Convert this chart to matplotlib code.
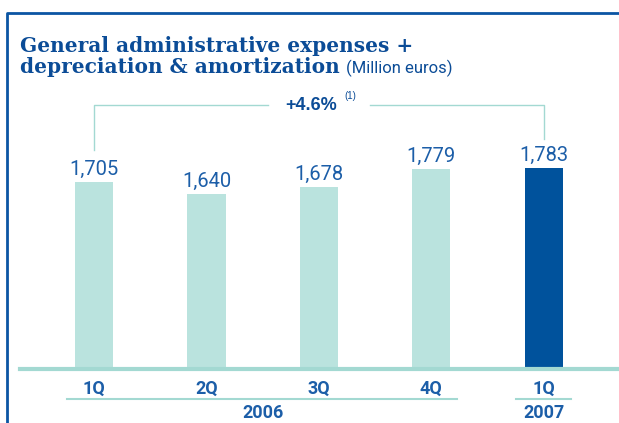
import matplotlib
matplotlib.use("Agg")
import matplotlib.pyplot as plt
from matplotlib.lines import Line2D
from matplotlib.transforms import blended_transform_factory

quarters = ["1Q", "2Q", "3Q", "4Q", "1Q"]
years = ["2006", "2007"]
values = [1705, 1640, 1678, 1779, 1783]
change_label = "+4.6%"
note = "(1)"

light = "#bae3de"
dark = "#00529c"
teal = "#a3d9d2"
blue_txt = "#1c5ea8"
title_blue = "#0b4c97"
sans = ["Roboto", "DejaVu Sans"]

W, H = 619, 423
fig = plt.figure(figsize=(W / 100, H / 100), dpi=100)

# axes: left 20px, bottom at 369px from top, top at 100px from top
ax = fig.add_axes([20 / W, 54 / H, 599 / W, 269 / H])
x = list(range(len(values)))
colors = [light] * (len(values) - 1) + [dark]
ax.bar(x, values, width=0.34, color=colors, zorder=2)
ax.set_xlim(-0.66, 4.67)
ax.set_ylim(670, 2160)

for s in ["top", "right", "left"]:
    ax.spines[s].set_visible(False)
ax.spines["bottom"].set_color(teal)
ax.spines["bottom"].set_linewidth(3)
ax.spines["bottom"].set_zorder(3)
ax.set_yticks([])
ax.set_xticks(x)
ax.set_xticklabels(quarters, fontsize=13, fontweight="bold", color=blue_txt,
                   family=sans)
ax.tick_params(axis="x", length=0, pad=8)

for xi, v in zip(x, values):
    ax.annotate(f"{v:,}", (xi, v), xytext=(0, 5), textcoords="offset points",
                ha="center", va="baseline", fontsize=14.5, color=blue_txt,
                family=sans)

# bracket showing the change
top = 2132
ax.plot([0, 0, 1.546], [1883, top, top], color=teal, lw=1, clip_on=False)
ax.plot([2.454, 4, 4], [top, top, 1944], color=teal, lw=1, clip_on=False)
ax.text(1.93, top, change_label, ha="center", va="center", fontsize=13,
        fontweight="bold", color=title_blue, family=["Liberation Sans", "DejaVu Sans"])
ax.text(2.23, top + 50, note, ha="left", va="center", fontsize=7,
        color=title_blue, family=["Liberation Sans", "DejaVu Sans"])

# year grouping below the quarter labels
tr = blended_transform_factory(ax.transData, fig.transFigure)
uy = 1 - 399 / H
fig.add_artist(Line2D([-0.24, 3.23], [uy, uy], transform=tr, color=teal, lw=1.5))
fig.add_artist(Line2D([3.75, 4.24], [uy, uy], transform=tr, color=teal, lw=1.5))
for xp, yr in zip([1.5, 4], years):
    fig.text(xp, 1 - 413 / H, yr, transform=tr, ha="center", va="center",
             fontsize=13, fontweight="bold", color=blue_txt, family=sans)

# title
serif = ["DejaVu Serif", "Liberation Serif"]
fig.text(20 / W, 1 - 52 / H, "General administrative expenses +", fontsize=14.5,
         fontweight="bold", family=serif, color=title_blue, va="baseline")
t2 = fig.text(20 / W, 1 - 73 / H, "depreciation & amortization", fontsize=14.5,
              fontweight="bold", family=serif, color=title_blue, va="baseline")
r = fig.canvas.get_renderer()
bb = t2.get_window_extent(renderer=r)
fig.text((bb.x1 + 6) / W, 1 - 73 / H, "(Million euros)", fontsize=12,
         family=sans, color=title_blue, va="baseline")

# frame at top and left
fig.add_artist(Line2D([7 / W, 7 / W, 1], [0, 1 - 13 / H, 1 - 13 / H],
                      transform=fig.transFigure, color="#0b55a3", lw=2))

fig.savefig("out.png", dpi=100)
